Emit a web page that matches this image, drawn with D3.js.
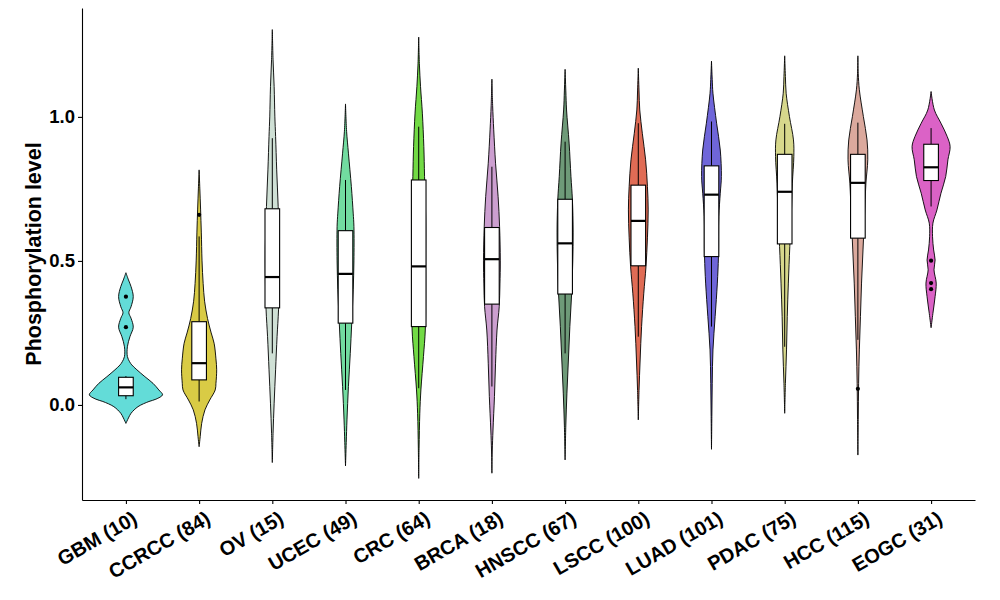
<!DOCTYPE html>
<html>
<head>
<meta charset="utf-8">
<script src="https://cdn.jsdelivr.net/npm/d3@7"></script>
<style>
  html, body { margin: 0; padding: 0; background: #fff; }
  svg text { font-family: "Liberation Sans", Arial, sans-serif; font-weight: bold; fill: #000; }
</style>
</head>
<body>
<svg id="chart" width="1000" height="600"></svg>
<script>
// ---------- data ----------
const categories = ["GBM (10)", "CCRCC (84)", "OV (15)", "UCEC (49)", "CRC (64)", "BRCA (18)",
  "HNSCC (67)", "LSCC (100)", "LUAD (101)", "PDAC (75)", "HCC (115)", "EOGC (31)"];

const fillColors = ["#63dcd8", "#d9cb45", "#cfe0d5", "#72dca0", "#72da45", "#cc9fd0",
  "#6e9a78", "#e06c55", "#6f66d9", "#d7d88c", "#dba99d", "#db62c6"];

// box statistics
const q1Values      = [0.032, 0.087, 0.337, 0.284, 0.272, 0.350, 0.385, 0.483, 0.515, 0.559, 0.579, 0.779];
const medianValues  = [0.061, 0.145, 0.444, 0.455, 0.481, 0.506, 0.561, 0.639, 0.730, 0.740, 0.771, 0.825];
const q3Values      = [0.096, 0.289, 0.681, 0.605, 0.781, 0.616, 0.714, 0.763, 0.830, 0.870, 0.870, 0.905];
const whiskerLow    = [0.020, 0.012, 0.179, 0.052, 0.058, 0.064, 0.179, 0.237, 0.272, 0.202, 0.226, 0.689];
const whiskerHigh   = [0.100, 0.585, 0.926, 0.781, 0.966, 0.827, 0.914, 0.978, 0.984, 0.976, 0.980, 0.961];
const outlierValues = [[0.376, 0.270], [0.660], [], [], [], [], [], [], [], [], [0.056], [0.501, 0.423, 0.402]];

// violin density profiles: [value, relative density]
const densityGBM   = [[-0.064,0],[-0.045,0.07],[-0.029,0.14],[-0.006,0.33],[0.012,0.63],[0.020,0.82],[0.035,1.0],[0.052,0.9],[0.075,0.74],[0.098,0.52],[0.122,0.30],[0.139,0.16],[0.150,0.10],[0.168,0.04],[0.202,0.04],[0.237,0.11],[0.270,0.20],[0.301,0.14],[0.320,0.08],[0.341,0.14],[0.376,0.20],[0.411,0.14],[0.434,0.07],[0.459,0]];
const densityCCRCC = [[-0.145,0],[-0.11,0.03],[-0.064,0.07],[-0.017,0.16],[0.017,0.29],[0.052,0.44],[0.075,0.46],[0.122,0.48],[0.16,0.46],[0.214,0.41],[0.25,0.33],[0.30,0.23],[0.36,0.15],[0.422,0.11],[0.50,0.08],[0.60,0.06],[0.68,0.04],[0.75,0.02],[0.816,0]];
const densityOV    = [[-0.2,0],[-0.1,0.02],[0.006,0.05],[0.122,0.09],[0.237,0.13],[0.33,0.17],[0.45,0.19],[0.55,0.19],[0.689,0.16],[0.816,0.12],[0.932,0.09],[1.0,0.07],[1.105,0.05],[1.20,0.02],[1.303,0]];
const densityUCEC  = [[-0.212,0],[-0.13,0.02],[-0.052,0.04],[0.064,0.08],[0.179,0.13],[0.284,0.17],[0.4,0.21],[0.5,0.23],[0.619,0.23],[0.666,0.21],[0.758,0.16],[0.874,0.08],[0.95,0.03],[1.045,0]];
const densityCRC   = [[-0.255,0],[-0.15,0.01],[-0.029,0.03],[0.052,0.06],[0.168,0.13],[0.26,0.18],[0.38,0.19],[0.5,0.19],[0.65,0.19],[0.793,0.16],[0.897,0.14],[1.013,0.10],[1.105,0.05],[1.18,0.02],[1.277,0]];
const densityBRCA  = [[-0.237,0],[-0.16,0.01],[-0.087,0.03],[0.029,0.07],[0.145,0.10],[0.26,0.14],[0.341,0.20],[0.42,0.22],[0.5,0.23],[0.619,0.21],[0.723,0.17],[0.839,0.10],[0.955,0.05],[1.04,0.02],[1.131,0]];
const densityHNSCC = [[-0.191,0],[-0.07,0.02],[0.041,0.05],[0.156,0.09],[0.272,0.13],[0.388,0.18],[0.5,0.21],[0.6,0.22],[0.712,0.20],[0.793,0.16],[0.909,0.11],[1.024,0.04],[1.09,0.02],[1.165,0]];
const densityLSCC  = [[-0.052,0],[0.05,0.02],[0.156,0.05],[0.272,0.09],[0.388,0.15],[0.48,0.21],[0.58,0.25],[0.677,0.27],[0.758,0.25],[0.851,0.20],[0.943,0.11],[1.024,0.04],[1.09,0.02],[1.169,0]];
const densityLUAD  = [[-0.154,0],[-0.04,0.01],[0.075,0.02],[0.191,0.04],[0.307,0.10],[0.423,0.16],[0.515,0.19],[0.654,0.20],[0.735,0.24],[0.793,0.27],[0.885,0.24],[0.978,0.14],[1.082,0.04],[1.13,0.02],[1.194,0]];
const densityPDAC  = [[-0.029,0],[0.075,0.02],[0.191,0.05],[0.307,0.07],[0.423,0.10],[0.55,0.14],[0.654,0.18],[0.77,0.21],[0.862,0.25],[0.92,0.24],[1.001,0.13],[1.082,0.04],[1.14,0.02],[1.212,0]];
const densityHCC   = [[-0.174,0],[-0.05,0.01],[0.075,0.02],[0.191,0.04],[0.307,0.07],[0.423,0.10],[0.538,0.14],[0.654,0.18],[0.77,0.22],[0.851,0.27],[0.92,0.25],[1.001,0.15],[1.094,0.04],[1.15,0.01],[1.212,0]];
const densityEOGC  = [[0.268,0],[0.318,0.05],[0.376,0.11],[0.423,0.14],[0.469,0.08],[0.503,0.11],[0.538,0.07],[0.584,0.04],[0.631,0.05],[0.677,0.16],[0.735,0.27],[0.793,0.40],[0.851,0.46],[0.897,0.52],[0.932,0.44],[0.978,0.27],[1.024,0.09],[1.088,0]];

const densities = [densityGBM, densityCCRCC, densityOV, densityUCEC, densityCRC, densityBRCA,
  densityHNSCC, densityLSCC, densityLUAD, densityPDAC, densityHCC, densityEOGC];

const yTicks = [0.0, 0.5, 1.0];
const yTitle = "Phosphorylation level";

// ---------- layout ----------
const svg = d3.select("#chart");
const plotLeft = 82, plotRight = 975, plotTop = 8, plotBottom = 500;

const x = d3.scalePoint().domain(categories).range([plotLeft, plotRight]).padding(0.6);
const y = d3.scaleLinear().domain([-0.33, 1.378]).range([plotBottom, plotTop]);
const halfW = d3.scaleLinear().domain([0, 1]).range([0, x.step() / 2]);

const g = svg.append("g");

// violins
categories.forEach((cat, i) => {
  const cx = x(cat);
  const path = d3.area()
    .curve(d3.curveCatmullRom.alpha(0.5))
    .y(d => y(d[0]))
    .x0(d => cx - halfW(d[1]))
    .x1(d => cx + halfW(d[1]));
  g.append("path")
    .attr("d", path(densities[i]))
    .attr("fill", fillColors[i])
    .attr("stroke", "#000")
    .attr("stroke-width", 0.9);
});

// boxplots
const boxHalf = x.step() * 0.1;
categories.forEach((cat, i) => {
  const cx = x(cat);
  const bg = g.append("g");
  bg.append("line").attr("x1", cx).attr("x2", cx)
    .attr("y1", y(q3Values[i])).attr("y2", y(whiskerHigh[i]))
    .attr("stroke", "#000").attr("stroke-width", 1);
  bg.append("line").attr("x1", cx).attr("x2", cx)
    .attr("y1", y(q1Values[i])).attr("y2", y(whiskerLow[i]))
    .attr("stroke", "#000").attr("stroke-width", 1);
  bg.append("rect")
    .attr("x", cx - boxHalf).attr("width", boxHalf * 2)
    .attr("y", y(q3Values[i])).attr("height", y(q1Values[i]) - y(q3Values[i]))
    .attr("fill", "#fff").attr("stroke", "#000").attr("stroke-width", 1.1);
  bg.append("line").attr("x1", cx - boxHalf).attr("x2", cx + boxHalf)
    .attr("y1", y(medianValues[i])).attr("y2", y(medianValues[i]))
    .attr("stroke", "#000").attr("stroke-width", 2.2);
  outlierValues[i].forEach(v => {
    bg.append("circle").attr("cx", cx).attr("cy", y(v)).attr("r", 2.1).attr("fill", "#000");
  });
});

// axes
const yAxis = d3.axisLeft(y).tickValues(yTicks).tickFormat(d3.format(".1f")).tickSize(4).tickSizeOuter(0);
const ya = svg.append("g").attr("transform", `translate(${plotLeft},0)`).call(yAxis);
ya.select(".domain").attr("stroke", "#000").attr("stroke-width", 1.1);
ya.selectAll(".tick line").attr("stroke", "#000").attr("stroke-width", 1.1);
ya.selectAll(".tick text").attr("font-size", 18.5).attr("x", -7).attr("fill", "#000");

const xAxis = d3.axisBottom(x).tickSize(4).tickSizeOuter(0);
const xa = svg.append("g").attr("transform", `translate(0,${plotBottom})`).call(xAxis);
xa.select(".domain").attr("stroke", "#000").attr("stroke-width", 1.1);
xa.selectAll(".tick line").attr("stroke", "#000").attr("stroke-width", 1.1);
xa.selectAll(".tick text")
  .attr("font-size", 20)
  .attr("fill", "#000")
  .attr("text-anchor", "end")
  .attr("x", 0).attr("y", 0).attr("dy", "0.72em")
  .attr("transform", "translate(5,10) rotate(-30)");

// y title
svg.append("text")
  .attr("transform", `translate(41,${(plotTop + plotBottom) / 2}) rotate(-90)`)
  .attr("text-anchor", "middle")
  .attr("font-size", 21.5)
  .text(yTitle);
</script>
</body>
</html>
